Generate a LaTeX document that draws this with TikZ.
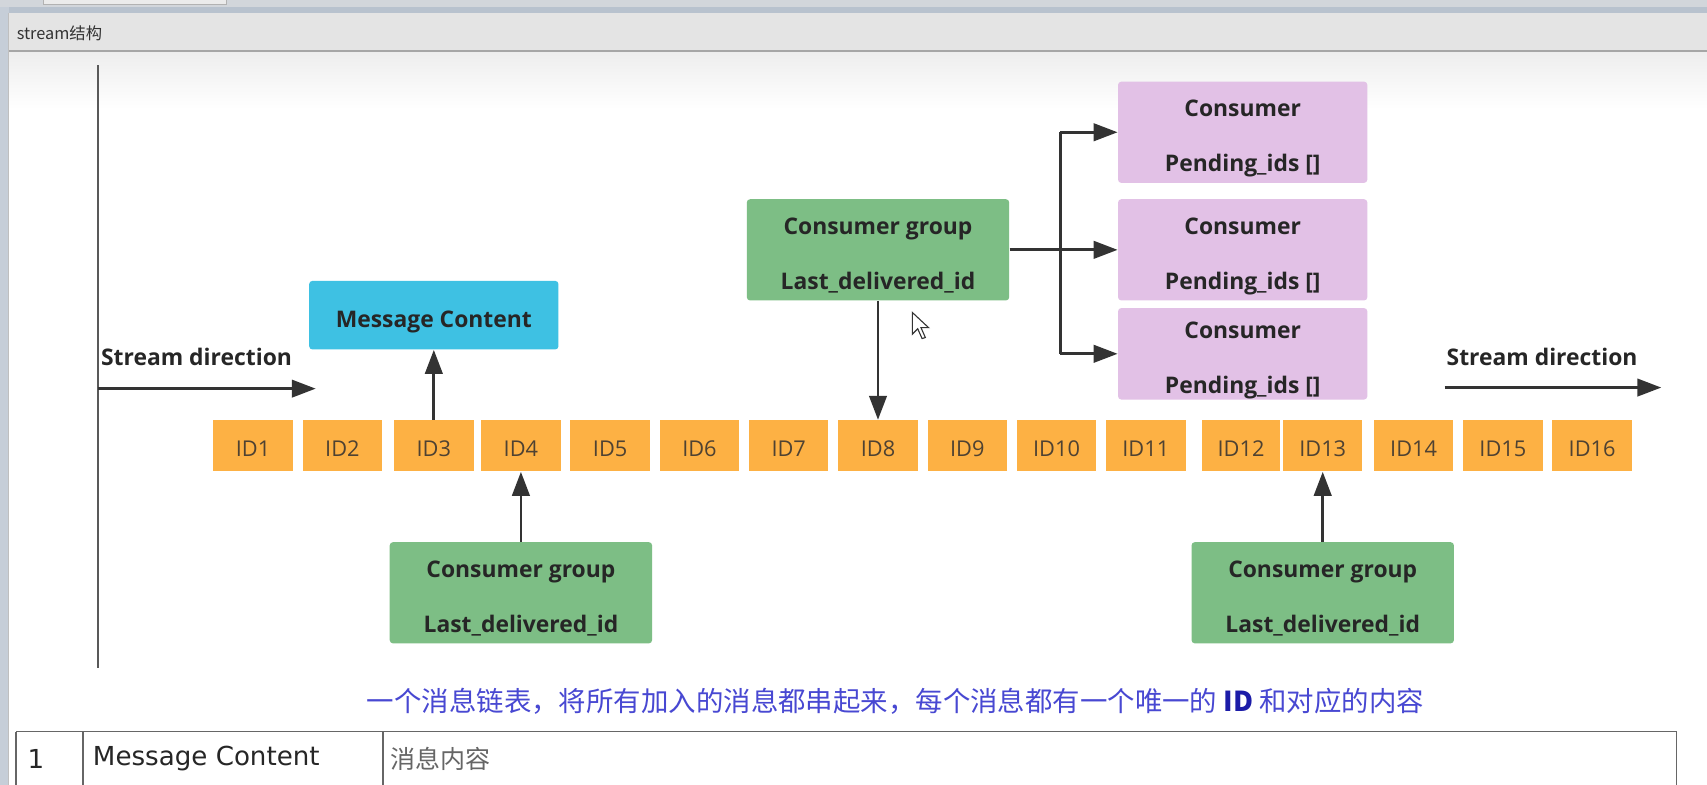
\documentclass[tikz,border=0pt]{standalone}
\usepackage{fontspec}
\usetikzlibrary{arrows.meta}
\newfontfamily\diag{Open Sans}
\newfontfamily\cjk{Noto Sans CJK SC}
\newfontfamily\tbl{DejaVu Sans}
\definecolor{idor}{HTML}{FDB144}
\definecolor{idtxt}{HTML}{4F4232}
\definecolor{grn}{HTML}{7DBE85}
\definecolor{pur}{HTML}{E2C1E6}
\definecolor{cyanbox}{HTML}{3EC1E3}
\definecolor{arrc}{HTML}{333333}
\definecolor{captblue}{HTML}{4848D2}
\definecolor{iddark}{HTML}{1C1CA8}
\definecolor{chrome}{HTML}{E4E4E4}
\definecolor{topstrip}{HTML}{D2D6DB}
\definecolor{band}{HTML}{B8C2CE}
\definecolor{lborder}{HTML}{C6CED8}
\newcommand\twolines[2]{\raisebox{-3pt}[\height][\depth]{\begin{tabular}{@{}c@{}}#1\\[12.5pt]#2\end{tabular}}}
\newcommand\lowered[2]{\raisebox{-#1}[\height][\depth]{#2}}
\tikzset{
  idbox/.style={fill=idor, minimum width=36.5pt, minimum height=23.5pt, inner sep=0pt, text=idtxt, font=\diag\fontsize{10}{12}\selectfont},
  grp/.style={fill=grn, rounded corners=1.5pt, minimum width=120.5pt, minimum height=46.5pt, inner sep=0pt, text=black!85, font=\diag\bfseries\fontsize{10.5}{12.6}\selectfont},
  cons/.style={fill=pur, rounded corners=1.5pt, minimum width=114.5pt, inner sep=0pt, text=black!85, font=\diag\bfseries\fontsize{10.5}{12.6}\selectfont},
  mcbox/.style={fill=cyanbox, rounded corners=1.5pt, minimum width=114.5pt, minimum height=31.5pt, inner sep=0pt, text=black!85, font=\diag\bfseries\fontsize{10.5}{12.6}\selectfont},
  lbl/.style={inner sep=0pt, text=black!85, font=\diag\bfseries\fontsize{10.5}{12.6}\selectfont},
  arr/.style={draw=arrc, line width=1.3pt, -{Triangle[length=11pt,width=8pt]}},
  plainline/.style={draw=arrc, line width=1.3pt},
  axisline/.style={draw=black!65, line width=1pt},
  tabline/.style={draw=black!60, line width=0.8pt},
  tbltext/.style={inner sep=0pt, anchor=west, font=\tbl\fontsize{12}{14}\selectfont},
}
\begin{document}
\begin{tikzpicture}[x=0.5pt,y=-0.5pt]
\useasboundingbox (0,0) rectangle (1568,721);
% window chrome
\fill[white] (0,0) rectangle (1568,721);
\fill[topstrip] (0,0) rectangle (1568,6);
\filldraw[fill=black!8, draw=black!30, line width=0.4pt] (40,-1) rectangle (208,4);
\fill[band] (0,6) rectangle (1568,12);
\fill[chrome] (8,12) rectangle (1568,46);
\shade[top color=black!7, bottom color=white] (8,47) rectangle (1568,100);
\draw[black!35, line width=1pt] (8,46.5) -- (1568,46.5);
\fill[lborder] (0,6) rectangle (8,721);
\draw[black!25, line width=0.5pt] (8,12) -- (8,721);
\node[anchor=west, inner sep=0pt, text=black!80, font=\cjk\fontsize{7.5}{9}\selectfont] (title) at (15,31) {stream结构};

% axis line
\coordinate (vtop) at (90,60);
\coordinate (vbot) at (90,614);
\draw[axisline] (vtop) -- (vbot);

% stream direction labels and arrows
\node[lbl] (sdl) at (180.5,328) {Stream direction};
\coordinate (sls) at (90,357);
\coordinate (sle) at (290,357);
\draw[arr] (sls) -- (sle);
\node[lbl] (sdr) at (1416.5,328) {Stream direction};
\coordinate (srs) at (1327,356);
\coordinate (sre) at (1526,356);
\draw[arr] (srs) -- (sre);

% ID boxes
\node[idbox] (id1) at (232.5,409.5) {\lowered{1.5pt}{ID1}};
\node[idbox] (id2) at (314.5,409.5) {\lowered{1.5pt}{ID2}};
\node[idbox] (id3) at (398.5,409.5) {\lowered{1.5pt}{ID3}};
\node[idbox] (id4) at (478.5,409.5) {\lowered{1.5pt}{ID4}};
\node[idbox] (id5) at (560.5,409.5) {\lowered{1.5pt}{ID5}};
\node[idbox] (id6) at (642.5,409.5) {\lowered{1.5pt}{ID6}};
\node[idbox] (id7) at (724.5,409.5) {\lowered{1.5pt}{ID7}};
\node[idbox] (id8) at (806.5,409.5) {\lowered{1.5pt}{ID8}};
\node[idbox] (id9) at (888.5,409.5) {\lowered{1.5pt}{ID9}};
\node[idbox] (id10) at (970.5,409.5) {\lowered{1.5pt}{ID10}};
\node[idbox] (id11) at (1052.5,409.5) {\lowered{1.5pt}{ID11}};
\node[idbox, minimum width=35.5pt] (id12) at (1140,409.5) {\lowered{1.5pt}{ID12}};
\node[idbox] (id13) at (1215,409.5) {\lowered{1.5pt}{ID13}};
\node[idbox] (id14) at (1298.5,409.5) {\lowered{1.5pt}{ID14}};
\node[idbox] (id15) at (1380.5,409.5) {\lowered{1.5pt}{ID15}};
\node[idbox] (id16) at (1462.5,409.5) {\lowered{1.5pt}{ID16}};

% message content
\node[mcbox] (mc) at (398.5,289.5) {\lowered{3pt}{Message Content}};
\draw[arr] (id3.north) -- (id3.north |- mc.south);

% consumer groups
\node[grp] (cgt) at (806.5,229.5) {\twolines{Consumer group}{Last\_delivered\_id}};
\node[grp] (cgl) at (478.5,544.5) {\twolines{Consumer group}{Last\_delivered\_id}};
\node[grp] (cgr) at (1215,544.5) {\twolines{Consumer group}{Last\_delivered\_id}};
\draw[arr] (cgt.south) -- (cgt.south |- id8.north);
\draw[arr] (cgl.north) -- (cgl.north |- id4.south);
\draw[arr] (cgr.north) -- (cgr.north |- id13.south);

% consumers
\node[cons, minimum height=46.5pt] (c1) at (1141.5,121.5) {\twolines{Consumer}{Pending\_ids []}};
\node[cons, minimum height=46.5pt] (c2) at (1141.5,229.5) {\twolines{Consumer}{Pending\_ids []}};
\node[cons, minimum height=42pt] (c3) at (1141.5,325) {\twolines{Consumer}{Pending\_ids []}};
\coordinate (ta) at (974,121.5);
\coordinate (tb) at (974,325);
\draw[plainline] (ta) -- (tb);
\draw[arr] (cgt.east) -- (c2.west);
\draw[arr] (ta) -- (c1.west);
\draw[arr] (tb) -- (c3.west);

% mouse cursor
\filldraw[fill=white, draw=black!80, line width=0.5pt] (838,287) -- (838,307) -- (843,302) -- (847,311) -- (850,310) -- (846,301) -- (853,301) -- cycle;

% caption
\node[inner sep=0pt, text=captblue, font=\cjk\fontsize{12.6}{15}\selectfont] (cap) at (822.5,644) {一个消息链表，将所有加入的消息都串起来，每个消息都有一个唯一的 {\color{iddark}\bfseries ID} 和对应的内容};

% table
\coordinate (t0) at (15,672);
\coordinate (t1) at (76,672);
\coordinate (t2) at (352,672);
\coordinate (t3) at (1540,672);
\draw[tabline] (t0) -- (t3);
\draw[tabline] (t0) -- (15,721);
\draw[tabline] (t1) -- (76,721);
\draw[tabline] (t2) -- (352,721);
\draw[tabline] (t3) -- (1540,721);
\node[tbltext, text=black!85] (r1) at (25,697) {1};
\node[tbltext, text=black!85] (r2) at (85,697) {Message Content};
\node[tbltext, text=black!60, font=\cjk\fontsize{11.5}{13}\selectfont] (r3) at (358,697) {消息内容};
\end{tikzpicture}
\end{document}
